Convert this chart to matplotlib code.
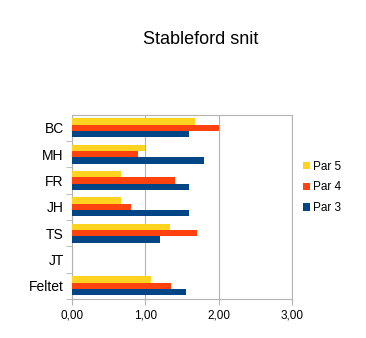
import matplotlib
matplotlib.use('Agg')
import matplotlib.pyplot as plt
import numpy as np

plt.rcParams['font.family'] = ['Liberation Sans', 'DejaVu Sans']

players = ['BC', 'MH', 'FR', 'JH', 'TS', 'JT', 'Feltet']
par5 = [1.67, 1.00, 0.67, 0.67, 1.33, 0.0, 1.07]
par4 = [2.00, 0.90, 1.40, 0.80, 1.70, 0.0, 1.35]
par3 = [1.60, 1.80, 1.60, 1.60, 1.20, 0.0, 1.56]
xticks = [0, 1, 2, 3]
xlabels = ['0,00', '1,00', '2,00', '3,00']

fig = plt.figure(figsize=(3.66, 3.38), dpi=100)
ax = fig.add_axes([0.197, 0.115, 0.601, 0.546])

y = np.arange(len(players))[::-1].astype(float)
h = 0.24
ax.barh(y + h, par5, height=h, color='#ffd320', label='Par 5', zorder=3)
ax.barh(y, par4, height=h, color='#ff420e', label='Par 4', zorder=3)
ax.barh(y - h, par3, height=h, color='#004586', label='Par 3', zorder=3)

ax.set_xlim(0, 3)
ax.set_ylim(-0.5, len(players) - 0.5)
ax.set_xticks(xticks)
ax.set_xticklabels(xlabels, fontsize=8.5)
ax.set_yticks(y)
ax.set_yticklabels(players, fontsize=10)
ax.set_yticks(np.arange(len(players)) - 0.5, minor=True)
ax.tick_params(axis='y', which='major', length=0, pad=6)
ax.tick_params(axis='y', which='minor', length=4, color='#b3b3b3')
ax.tick_params(axis='x', length=4, color='#b3b3b3')
ax.grid(axis='x', color='#b3b3b3', linewidth=0.8, zorder=0)
for s in ax.spines.values():
    s.set_color('#b3b3b3')
    s.set_linewidth(0.8)

fig.text(0.548, 0.882, 'Stableford snit', ha='center', va='center', fontsize=13)
ax.legend(loc='center left', bbox_to_anchor=(1.0, 0.605), frameon=False,
          fontsize=8.5, handlelength=0.6, handleheight=0.6, handletextpad=0.3,
          labelspacing=0.75, borderaxespad=0.5)

fig.savefig('out.png', dpi=100)
